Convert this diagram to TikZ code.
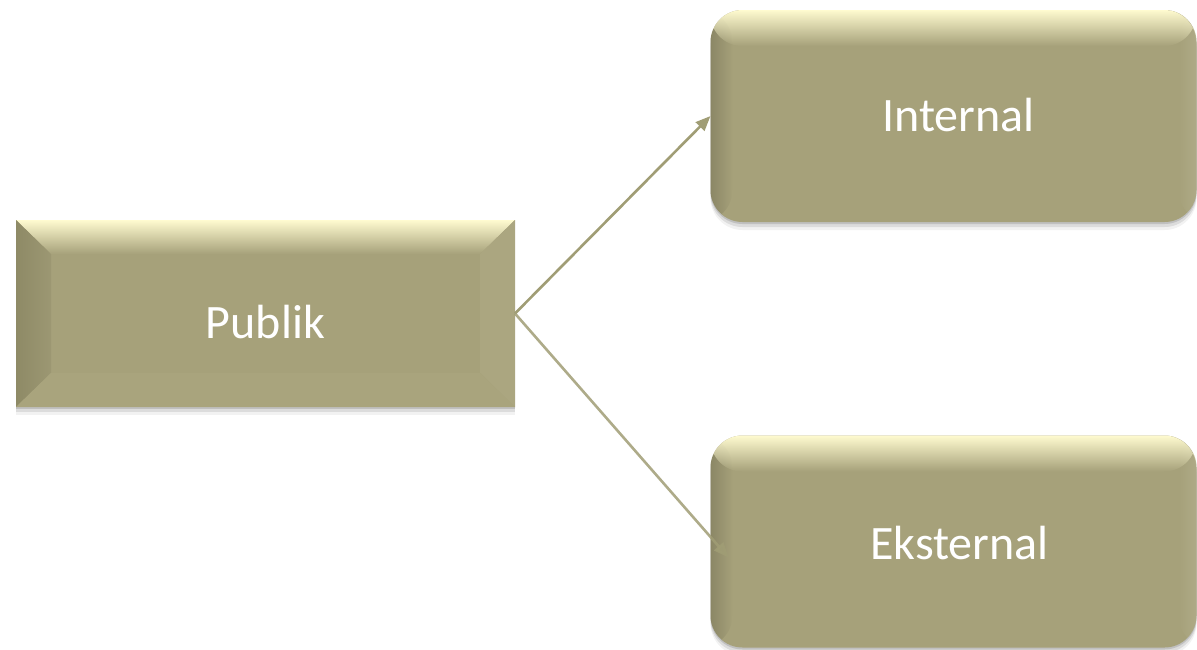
\documentclass[tikz,border=0pt]{standalone}
\usepackage{fontspec}
\setmainfont{Carlito}
\usetikzlibrary{arrows.meta,calc,shadows,fadings}
\definecolor{khaki}{RGB}{166,161,122}
\definecolor{khakidark}{RGB}{142,138,102}
\definecolor{khakilight}{RGB}{255,251,208}
\definecolor{khakiside}{RGB}{171,166,128}
\definecolor{khakilow}{RGB}{169,164,125}
\definecolor{linkcol}{RGB}{160,157,117}
% overlays that fade out towards the inside of a box
\tikzfading[name=fadedown, top color=transparent!0, bottom color=transparent!100]
\tikzfading[name=faderight, left color=transparent!0, right color=transparent!100]
\tikzfading[name=fadeleft, left color=transparent!100, right color=transparent!0]
\tikzset{
  softshadow/.style={
    drop shadow={shadow xshift=0pt,shadow yshift=-2pt,opacity=.12,fill=black},
    drop shadow={shadow xshift=0pt,shadow yshift=-5pt,opacity=.09,fill=black},
    drop shadow={shadow xshift=0pt,shadow yshift=-8pt,opacity=.05,fill=black}},
  boxbase/.style={fill=khaki,draw=none,inner sep=0pt,outer sep=0pt,softshadow},
  bevelbox/.style={boxbase,rectangle,minimum width=499pt,minimum height=187pt,
    path picture={
      \coordinate (nw) at (path picture bounding box.north west);
      \coordinate (se) at (path picture bounding box.south east);
      \coordinate (ne) at (path picture bounding box.north east);
      \coordinate (sw) at (path picture bounding box.south west);
      % top bevel
      \shade[top color=khakilight,bottom color=khaki]
        (nw) -- (ne) -- ($(ne)+(-35,34)$) -- ($(nw)+(35,34)$) -- cycle;
      % left bevel
      \shade[left color=khakidark,right color=khaki!94!black]
        (nw) -- ($(nw)+(35,34)$) -- ($(sw)+(35,-34)$) -- (sw) -- cycle;
      % right bevel
      \fill[khakiside]
        (ne) -- (se) -- ($(se)+(-35,-34)$) -- ($(ne)+(-35,34)$) -- cycle;
      % bottom bevel
      \fill[khakilow]
        (sw) -- ($(sw)+(35,-34)$) -- ($(se)+(-35,-34)$) -- (se) -- cycle;
    }},
  roundbox/.style={boxbase,rectangle,rounded corners=32pt,
    minimum width=486pt,minimum height=212pt,
    path picture={
      \coordinate (nw) at (path picture bounding box.north west);
      \coordinate (se) at (path picture bounding box.south east);
      \coordinate (ne) at (path picture bounding box.north east);
      \coordinate (sw) at (path picture bounding box.south west);
      % darker left rim
      \fill[black,opacity=.16,path fading=faderight]
        (nw) rectangle ($(sw)+(22,0)$);
      % lighter right rim
      \fill[white,opacity=.10,path fading=fadeleft]
        ($(ne)+(-18,0)$) rectangle (se);
      % glossy top
      \fill[khakilight,path fading=fadedown]
        (nw) rectangle ($(ne)+(0,36)$);
    }},
  lbl/.style={text=white,font=\fontsize{48}{56}\selectfont,inner sep=0pt},
  conn/.style={draw=linkcol,line width=2.6pt,
    -{Triangle[length=15pt,width=12pt]}}
}
\begin{document}
\begin{tikzpicture}[x=1pt,y=-1pt]
  \useasboundingbox[fill=white] (0,0) rectangle (1197,649);

  % boxes
  \node[bevelbox] (P) at (265.5,313.5) {};
  \node[roundbox] (I) at (953.5,116) {};
  \node[roundbox] (E) at (953.5,541.5) {};

  % labels
  \node[lbl] (Pl) at ($(P.center)+(0,9)$) {Publik};
  \node[lbl] (Il) at ($(I.center)+(5,-1)$) {Internal};
  \node[lbl] (El) at ($(E.center)+(6,2)$) {Eksternal};

  % connectors
  \coordinate (Etip) at ($(E.west)+(18,16)$);
  \draw[conn] (P.east) -- (I.west);
  \draw[conn,opacity=.85] (P.east) -- (Etip);
\end{tikzpicture}
\end{document}
